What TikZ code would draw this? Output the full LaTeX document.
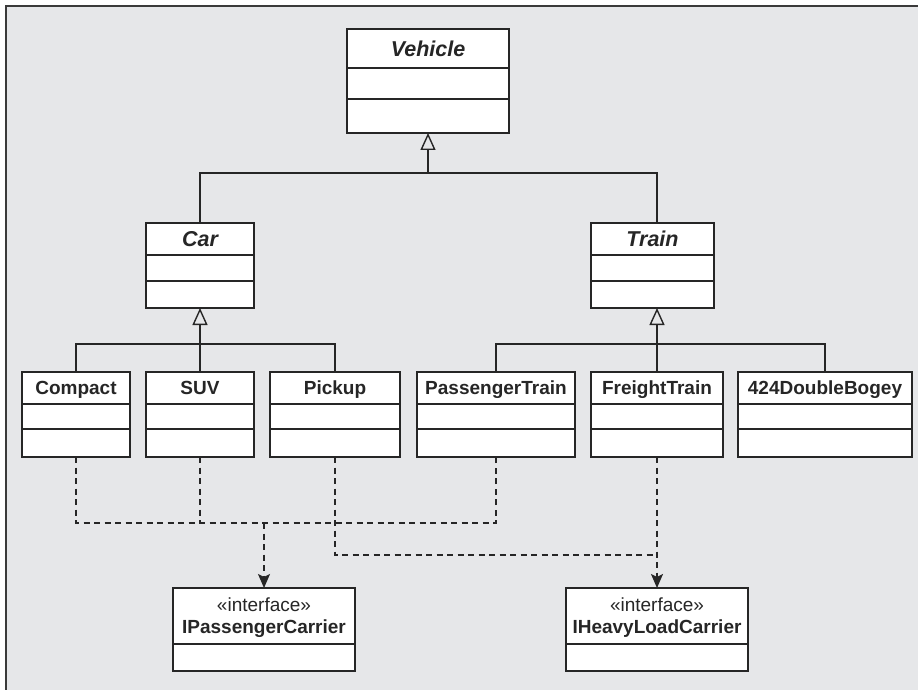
\documentclass[tikz,border=0pt]{standalone}
\usepackage{fontspec}
\setmainfont{Liberation Sans}
\usepackage{tikz}
\usepackage{xcolor}
\usetikzlibrary{arrows.meta,positioning}
\definecolor{panel}{HTML}{E6E7E9}
\definecolor{rim}{HTML}{3A3A3A}
\definecolor{ink}{HTML}{262626}
\tikzset{
  umlhead/.style={draw=ink,fill=white,line width=1.5pt,inner sep=0pt,outer sep=0pt,
                  text=ink,font=\bfseries\fontsize{19}{22}\selectfont,align=center,text depth=0pt},
  umlabstract/.style={umlhead,font=\bfseries\itshape\fontsize{21.5}{24}\selectfont},
  umlslot/.style={draw=ink,fill=white,line width=1.5pt,inner sep=0pt,outer sep=0pt},
  genarr/.style={-{Triangle[open,length=17pt,width=15pt]},line width=1.4pt,draw=ink},
  genline/.style={line width=1.4pt,draw=ink},
  realline/.style={line width=1.7pt,draw=ink,dash pattern=on 6pt off 4.5pt},
  realarr/.style={realline,-{Stealth[length=14pt,width=12pt,inset=3pt]}}
}
\begin{document}
\begin{tikzpicture}[x=1pt,y=-1pt]
  \useasboundingbox (0,0) rectangle (918,690);
  \fill[panel] (6,6) rectangle (918,690);
  \draw[rim,line width=1.5pt] (6,690) -- (6,6) -- (918,6);

  % abstract classes
  \node[umlabstract,minimum width=162,minimum height=39,anchor=north west] (vehicle) at (347,29) {Vehicle};
  \node[umlslot,minimum width=162,minimum height=31,below=0pt of vehicle] (vehicle-a) {};
  \node[umlslot,minimum width=162,minimum height=34,below=0pt of vehicle-a] (vehicle-o) {};

  \node[umlabstract,minimum width=108,minimum height=32,anchor=north west] (car) at (146,223) {Car};
  \node[umlslot,minimum width=108,minimum height=26,below=0pt of car] (car-a) {};
  \node[umlslot,minimum width=108,minimum height=27,below=0pt of car-a] (car-o) {};

  \node[umlabstract,minimum width=123,minimum height=32,anchor=north west] (train) at (591,223) {Train};
  \node[umlslot,minimum width=123,minimum height=26,below=0pt of train] (train-a) {};
  \node[umlslot,minimum width=123,minimum height=27,below=0pt of train-a] (train-o) {};

  % concrete classes
  \foreach \n/\x/\w/\t in {compact/22/108/Compact, suv/146/108/SUV, pickup/270/130/Pickup,
      ptrain/417/158/PassengerTrain, ftrain/591/132/FreightTrain, bogey/738/174/424DoubleBogey} {
    \node[umlhead,minimum width=\w,minimum height=32,anchor=north west] (\n) at (\x,372) {\t};
    \node[umlslot,minimum width=\w,minimum height=25,below=0pt of \n] (\n-a) {};
    \node[umlslot,minimum width=\w,minimum height=28,below=0pt of \n-a] (\n-o) {};
  }

  % interfaces
  \node[umlhead,minimum width=182,minimum height=56,anchor=north west] (pcarrier) at (173,588)
    {\mdseries«interface»\\IPassengerCarrier};
  \node[umlslot,minimum width=182,minimum height=27,below=0pt of pcarrier] (pcarrier-o) {};
  \node[umlhead,minimum width=182,minimum height=56,anchor=north west] (hcarrier) at (566,588)
    {\mdseries«interface»\\IHeavyLoadCarrier};
  \node[umlslot,minimum width=182,minimum height=27,below=0pt of hcarrier] (hcarrier-o) {};

  % generalization
  \coordinate (vjoin) at (428,173);
  \coordinate (cjoin) at (200,344);
  \coordinate (tjoin) at (657,344);
  \draw[genline] (car.north) |- (vjoin) -| (ftrain.north |- train.north);
  \draw[genarr] (vjoin) -- (vehicle-o.south);
  \draw[genline] (compact.north) |- (cjoin) -| (pickup.north);
  \draw[genarr] (suv.north) -- (car-o.south);
  \draw[genline] (ptrain.north) |- (tjoin) -| (bogey.north);
  \draw[genarr] (ftrain.north) -- (ftrain.north |- train-o.south);

  % realization
  \coordinate (pjoin) at (264,523);
  \coordinate (hjoin) at (657,555);
  \draw[realline] (compact-o.south) |- (ptrain-o.south |- pjoin) -- (ptrain-o.south);
  \draw[realline] (suv-o.south) -- (suv-o.south |- pjoin);
  \draw[realarr] (pjoin) -- (pcarrier.north);
  \draw[realline] (pickup-o.south) |- (hjoin);
  \draw[realarr] (ftrain-o.south) -- (hcarrier.north);
\end{tikzpicture}
\end{document}
